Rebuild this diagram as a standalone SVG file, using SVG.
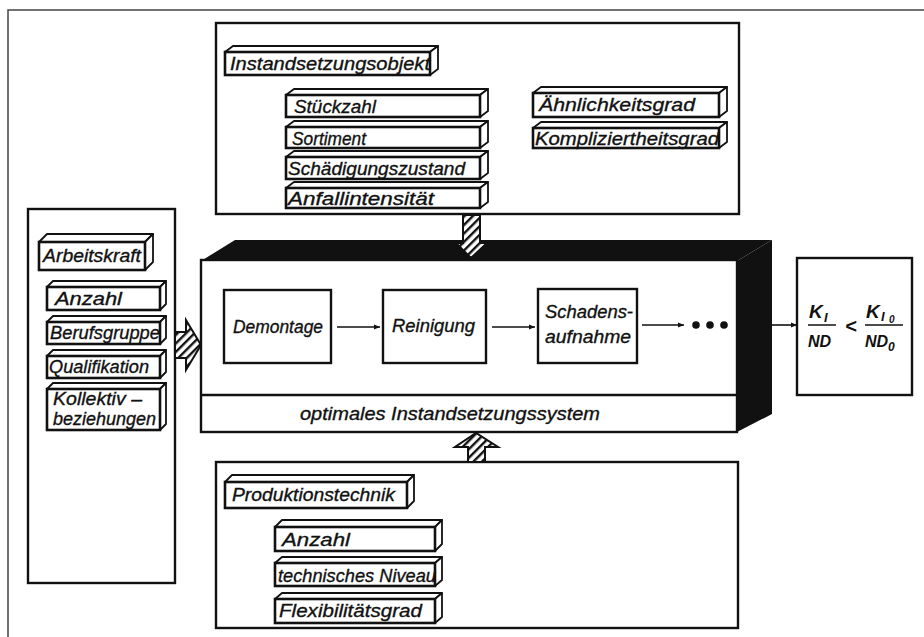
<svg xmlns="http://www.w3.org/2000/svg" width="924" height="637" viewBox="0 0 924 637">
<defs>
<style>
.t{font-family:"Liberation Sans","DejaVu Sans",sans-serif;font-style:italic;font-size:19px;fill:#111;stroke:#111;stroke-width:0.35}
.f{fill:#fff;stroke:#111;stroke-width:2.6}
.b{fill:#fff;stroke:#111;stroke-width:1.8;stroke-linejoin:round}
.box{fill:#fff;stroke:#111;stroke-width:2.4}
.con{stroke:#111;stroke-width:1.6;fill:none}
.h{fill:url(#hatch);stroke:#111;stroke-width:2;stroke-linejoin:miter}
.m{font-family:"Liberation Sans","DejaVu Sans",sans-serif;font-style:italic;font-weight:bold;fill:#111}
</style>
<pattern id="hatch" patternUnits="userSpaceOnUse" width="6" height="6" patternTransform="rotate(45)">
<rect width="6" height="6" fill="#fff"/>
<rect width="2.4" height="6" fill="#111"/>
</pattern>
<marker id="ah" viewBox="0 0 10 10" refX="10" refY="5" markerWidth="9" markerHeight="6" markerUnits="userSpaceOnUse" orient="auto">
<path d="M0,1 L10,5 L0,9 Z" fill="#111"/>
</marker>
</defs>
<rect width="924" height="637" fill="#fff"/>
<rect x="8" y="10" width="940" height="660" fill="none" stroke="#444" stroke-width="1.5"/>

<!-- top group -->
<g id="instandsetzungsobjekt-group">
<rect class="box" x="216" y="23" width="523" height="191"/>
<g id="instandsetzungsobjekt"><polygon class="b" points="225,52 233,46 438,46 430,52"/><polygon class="b" points="430,52 438,46 438,69 430,75"/><rect class="f" x="225" y="52" width="205" height="23"/><text class="t" x="230" y="70" font-size="18" textLength="200" lengthAdjust="spacingAndGlyphs">Instandsetzungsobjekt</text></g>
<g id="stueckzahl"><polygon class="b" points="286,95 294,89 488,89 480,95"/><polygon class="b" points="480,95 488,89 488,111 480,117"/><rect class="f" x="286" y="95" width="194" height="22"/><text class="t" x="294" y="113" textLength="82" lengthAdjust="spacingAndGlyphs">Stückzahl</text></g>
<g id="sortiment"><polygon class="b" points="286,127 294,121 488,121 480,127"/><polygon class="b" points="480,127 488,121 488,142 480,148"/><rect class="f" x="286" y="127" width="194" height="21"/><text class="t" x="292" y="145" textLength="74" lengthAdjust="spacingAndGlyphs">Sortiment</text></g>
<g id="schaedigungszustand"><polygon class="b" points="286,157 294,151 488,151 480,157"/><polygon class="b" points="480,157 488,151 488,173 480,179"/><rect class="f" x="286" y="157" width="194" height="22"/><text class="t" x="288" y="175" textLength="177" lengthAdjust="spacingAndGlyphs">Schädigungszustand</text></g>
<g id="anfallintensitaet"><polygon class="b" points="286,188 294,182 488,182 480,188"/><polygon class="b" points="480,188 488,182 488,202 480,208"/><rect class="f" x="286" y="188" width="194" height="20"/><text class="t" x="288" y="205" textLength="146" lengthAdjust="spacingAndGlyphs">Anfallintensität</text></g>
<g id="aehnlichkeitsgrad"><polygon class="b" points="533,93 541,87 727,87 719,93"/><polygon class="b" points="719,93 727,87 727,111 719,117"/><rect class="f" x="533" y="93" width="186" height="24"/><text class="t" x="539" y="111" textLength="156" lengthAdjust="spacingAndGlyphs">Ähnlichkeitsgrad</text></g>
<g id="kompliziertheitsgrad"><polygon class="b" points="533,128 541,122 727,122 719,128"/><polygon class="b" points="719,128 727,122 727,142 719,148"/><rect class="f" x="533" y="128" width="186" height="20"/><text class="t" x="535" y="145" textLength="184" lengthAdjust="spacingAndGlyphs">Kompliziertheitsgrad</text></g>
</g>

<!-- left group -->
<g id="arbeitskraft-group">
<rect class="box" x="28" y="209" width="147" height="374"/>
<g id="arbeitskraft"><polygon class="b" points="39,242 47,234 153,234 145,242"/><polygon class="b" points="145,242 153,234 153,262 145,270"/><rect class="f" x="39" y="242" width="106" height="28"/><text class="t" x="43" y="262" textLength="98" lengthAdjust="spacingAndGlyphs">Arbeitskraft</text></g>
<g id="anzahl-a"><polygon class="b" points="47,287 53,281 166,281 160,287"/><polygon class="b" points="160,287 166,281 166,304 160,310"/><rect class="f" x="47" y="287" width="113" height="23"/><text class="t" x="55" y="305" textLength="67" lengthAdjust="spacingAndGlyphs">Anzahl</text></g>
<g id="berufsgruppe"><polygon class="b" points="47,322 53,316 166,316 160,322"/><polygon class="b" points="160,322 166,316 166,338 160,344"/><rect class="f" x="47" y="322" width="113" height="22"/><text class="t" x="50" y="339" textLength="110" lengthAdjust="spacingAndGlyphs">Berufsgruppe</text></g>
<g id="qualifikation"><polygon class="b" points="47,356 53,350 166,350 160,356"/><polygon class="b" points="160,356 166,350 166,372 160,378"/><rect class="f" x="47" y="356" width="113" height="22"/><text class="t" x="49" y="373" textLength="100" lengthAdjust="spacingAndGlyphs">Qualifikation</text></g>
<g id="kollektivbeziehungen"><polygon class="b" points="47,389 53,383 166,383 160,389"/><polygon class="b" points="160,389 166,383 166,424 160,430"/><rect class="f" x="47" y="389" width="113" height="41"/><text class="t" x="53" y="405" font-size="16" textLength="89" lengthAdjust="spacingAndGlyphs">Kollektiv –</text><text class="t" x="53" y="425" font-size="16" textLength="103" lengthAdjust="spacingAndGlyphs">beziehungen</text></g>
</g>

<!-- main system box -->
<g id="instandsetzungssystem">
<polygon points="201,261 235,240 772,240 737,261" fill="#111"/>
<polygon points="737,261 772,240 772,414 737,432" fill="#111"/>
<rect class="box" x="201" y="260" width="536" height="172" stroke-width="3"/>
<line x1="201" y1="395" x2="737" y2="395" stroke="#111" stroke-width="2.4"/>
<text class="t" x="300" y="420" textLength="300" lengthAdjust="spacingAndGlyphs">optimales Instandsetzungssystem</text>
</g>
<g id="demontage"><rect class="box" x="224" y="290" width="107" height="73"/><text class="t" x="233" y="333" textLength="90" lengthAdjust="spacingAndGlyphs">Demontage</text></g>
<g id="reinigung"><rect class="box" x="383" y="290" width="103" height="73"/><text class="t" x="392" y="332" textLength="83" lengthAdjust="spacingAndGlyphs">Reinigung</text></g>
<g id="schadensaufnahme"><rect class="box" x="538" y="289" width="99" height="74"/><text class="t" x="545" y="318" textLength="88" lengthAdjust="spacingAndGlyphs">Schadens-</text><text class="t" x="545" y="343" textLength="86" lengthAdjust="spacingAndGlyphs">aufnahme</text></g>
<g id="ellipsis"><circle cx="696" cy="325" r="3.8" fill="#111"/><circle cx="710" cy="325" r="3.8" fill="#111"/><circle cx="724" cy="325" r="3.8" fill="#111"/></g>

<!-- formula box -->
<g id="kennzahl">
<rect class="box" x="797" y="258" width="115" height="137"/>
<text class="m" x="809" y="318" font-size="19">K</text>
<text class="m" x="824" y="322" font-size="13" font-family="Liberation Serif">I</text>
<line x1="808" y1="325" x2="836" y2="325" stroke="#111" stroke-width="1.5"/>
<text class="m" x="808" y="347" font-size="16">ND</text>
<text class="m" x="845" y="333" font-size="20" font-style="normal" font-weight="normal">&lt;</text>
<text class="m" x="866" y="318" font-size="19">K</text>
<text class="m" x="881" y="321" font-size="13" font-family="Liberation Serif">I</text>
<text class="m" x="889" y="323" font-size="10">0</text>
<line x1="865" y1="325" x2="903" y2="325" stroke="#111" stroke-width="1.5"/>
<text class="m" x="865" y="347" font-size="16">ND</text>
<text class="m" x="888" y="351" font-size="12">0</text>
</g>

<!-- bottom group -->
<g id="produktionstechnik-group">
<rect class="box" x="216" y="462" width="522" height="166"/>
<g id="produktionstechnik"><polygon class="b" points="225,482 232,475 414,475 407,482"/><polygon class="b" points="407,482 414,475 414,501 407,508"/><rect class="f" x="225" y="482" width="182" height="26"/><text class="t" x="232" y="501" textLength="163" lengthAdjust="spacingAndGlyphs">Produktionstechnik</text></g>
<g id="anzahl-p"><polygon class="b" points="275,527 282,520 442,520 435,527"/><polygon class="b" points="435,527 442,520 442,544 435,551"/><rect class="f" x="275" y="527" width="160" height="24"/><text class="t" x="282" y="546" textLength="68" lengthAdjust="spacingAndGlyphs">Anzahl</text></g>
<g id="technisches-niveau"><polygon class="b" points="275,563 282,557 442,557 435,563"/><polygon class="b" points="435,563 442,557 442,580 435,586"/><rect class="f" x="275" y="563" width="160" height="23"/><text class="t" x="278" y="582" textLength="158" lengthAdjust="spacingAndGlyphs">technisches Niveau</text></g>
<g id="flexibilitaetsgrad"><polygon class="b" points="275,599 282,593 442,593 435,599"/><polygon class="b" points="435,599 442,593 442,617 435,623"/><rect class="f" x="275" y="599" width="160" height="24"/><text class="t" x="279" y="617" textLength="143" lengthAdjust="spacingAndGlyphs">Flexibilitätsgrad</text></g>
</g>

<!-- connectors -->
<g id="connectors">
<polygon class="h" points="463,215 480,215 480,243 487,243 471,258 456,243 463,243"/>
<polygon class="h" points="175,332 186,332 186,320 201,345 186,370 186,358 175,358"/>
<polygon class="h" points="468,462 468,447 455,447 476,433 498,447 485,447 485,462"/>
<line class="con" x1="337" y1="327" x2="380" y2="327" marker-end="url(#ah)"/>
<line class="con" x1="492" y1="327" x2="535" y2="327" marker-end="url(#ah)"/>
<line class="con" x1="642" y1="325" x2="684" y2="325" marker-end="url(#ah)"/>
<line class="con" x1="772" y1="325" x2="797" y2="325" marker-end="url(#ah)"/>
</g>
</svg>
